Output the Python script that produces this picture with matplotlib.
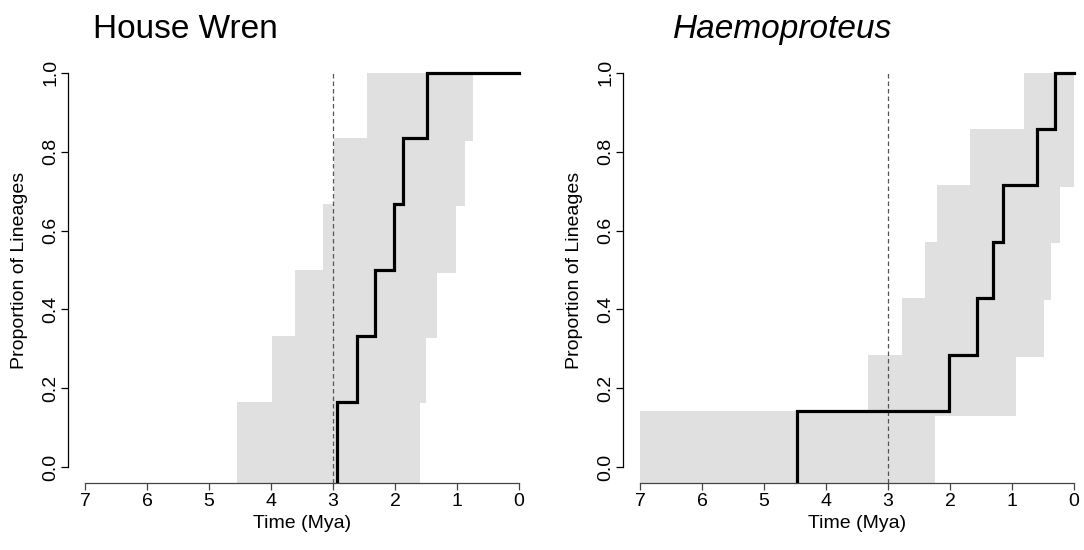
import matplotlib
matplotlib.use("Agg")
import matplotlib.pyplot as plt

plt.rcParams['font.family'] = ['Liberation Sans', 'DejaVu Sans']

# --- House Wren: lineage-through-time (times in Mya) ---
wren_times = [2.94, 2.62, 2.32, 2.01, 1.88, 1.49]
wren_prop = [1/6, 2/6, 3/6, 4/6, 5/6, 1.0]
# shaded interval: older bound (left edge) and younger bound (right edge) per step
wren_old = [4.55, 3.99, 3.62, 3.16, 2.99, 2.455]
wren_old_top = [1/6, 2/6, 3/6, 4/6, 5/6, 1.0]
wren_young = [1.60, 1.505, 1.33, 1.016, 0.88, 0.737]
wren_young_top = [0.162, 0.327, 0.493, 0.663, 0.827, 1.0]

# --- Haemoproteus ---
haemo_times = [4.47, 2.016, 1.559, 1.301, 1.150, 0.60, 0.312]
haemo_prop = [1/7, 2/7, 3/7, 4/7, 5/7, 6/7, 1.0]
haemo_old = [7.0, 3.32, 2.77, 2.40, 2.21, 1.685, 0.806]
haemo_old_top = [1/7, 2/7, 3/7, 4/7, 5/7, 6/7, 1.0]
haemo_young = [2.242, 0.935, 0.484, 0.376, 0.226, 0.0, 0.0]
haemo_young_top = [0.131, 0.280, 0.424, 0.5675, 0.711, 0.851, 1.0]

x_ticks = [7, 6, 5, 4, 3, 2, 1, 0]
y_ticks = [0.0, 0.2, 0.4, 0.6, 0.8, 1.0]
ref_time = 3  # dashed reference line

XLIM = (7.28, -0.28)
YLIM = (-0.04, 1.04)
YLO = YLIM[0]


def draw_panel(ax, times, prop, old, old_top, young, young_top):
    # grey band between the two step curves
    xs, ys = [], []
    prev = YLO
    for x, top in zip(old, old_top):
        xs += [x, x]
        ys += [prev, top]
        prev = top
    for i in range(len(young) - 1, -1, -1):
        bottom = young_top[i - 1] if i > 0 else YLO
        xs += [young[i], young[i]]
        ys += [young_top[i], bottom]
    ax.fill(xs, ys, color="#e0e0e0", lw=0, zorder=1)

    ax.plot([ref_time, ref_time], [YLO, 1.0], color="#555555", lw=0.9,
            dashes=(3.6, 2.4), zorder=2)

    # black step line
    lx, ly = [times[0]], [YLO]
    for i, t in enumerate(times):
        nxt = times[i + 1] if i + 1 < len(times) else 0
        lx += [t, nxt]
        ly += [prop[i], prop[i]]
    ax.plot(lx, ly, color="black", lw=2.3, solid_joinstyle="miter", zorder=3)

    ax.set_xlim(*XLIM)
    ax.set_ylim(*YLIM)
    for s in ["top", "right"]:
        ax.spines[s].set_visible(False)
    ax.spines["left"].set_bounds(0, 1)
    ax.spines["bottom"].set_bounds(0, 7)
    ax.spines["left"].set_linewidth(0.9)
    ax.spines["bottom"].set_linewidth(0.9)
    ax.spines["bottom"].set_color("#444444")
    ax.set_xticks(x_ticks)
    ax.set_xticklabels([str(v) for v in x_ticks])
    ax.set_yticks(y_ticks)
    ax.set_yticklabels(["%.1f" % v for v in y_ticks], rotation=90, va="center")
    ax.tick_params(axis="x", length=5, width=0.9, color="#444444", pad=2, labelsize=14)
    ax.tick_params(axis="y", length=5, width=0.9, pad=1, labelsize=14)
    ax.set_xlabel("Time (Mya)", fontsize=14, labelpad=4)
    ax.set_ylabel("Proportion of Lineages", fontsize=14, labelpad=10)


fig = plt.figure(figsize=(10.84, 5.5), dpi=100)
ax1 = fig.add_axes([0.0624, 0.1216, 0.4325, 0.7749])
ax2 = fig.add_axes([0.5744, 0.1216, 0.4325, 0.7749])

draw_panel(ax1, wren_times, wren_prop, wren_old, wren_old_top, wren_young, wren_young_top)
draw_panel(ax2, haemo_times, haemo_prop, haemo_old, haemo_old_top, haemo_young, haemo_young_top)

fig.text(185 / 1084, 1 - 38 / 550, "House Wren", fontsize=24, ha="center", va="baseline")
fig.text(783 / 1084, 1 - 38 / 550, "Haemoproteus", fontsize=24, style="italic",
         ha="center", va="baseline")

fig.savefig("out.png", dpi=100)
